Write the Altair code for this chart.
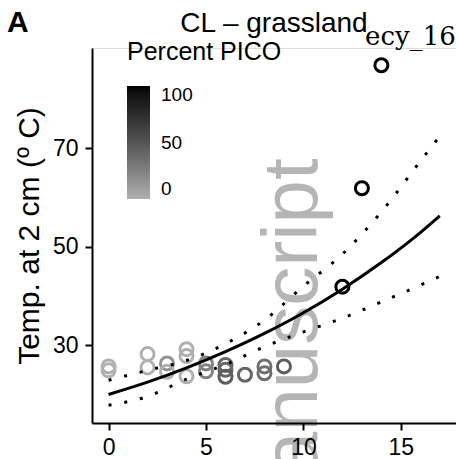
import altair as alt
import pandas as pd

# ---- data ----
pico_x = [0, 0, 2, 2, 3, 3, 4, 4, 4, 5, 5, 6, 6, 6, 7, 8, 8, 9, 12, 13, 14]
temp_y = [25.7, 24.9, 28.2, 25.5, 26.3, 24.6, 29.2, 27.8, 23.7, 26.3, 24.7,
          26.0, 25.0, 23.6, 24.0, 25.7, 24.3, 25.7, 41.9, 61.9, 86.9]
pico_pct = [0, 0, 0, 0, 15, 0, 0, 0, 0, 25, 25, 40, 40, 45, 40, 35, 35, 45, 100, 100, 100]
point_label = [""] * 20 + ["ecy_16"]

fit_x = [0, 2, 4, 6, 8, 10, 12, 14, 16, 17]
fit_mid = [20.0, 22.5, 25.4, 28.7, 32.4, 36.6, 41.4, 46.8, 52.9, 56.3]
fit_upper = [22.9, 24.9, 26.9, 30.3, 35.1, 42.0, 48.5, 57.1, 67.4, 72.5]
fit_lower = [17.8, 19.6, 23.1, 26.1, 29.7, 32.7, 35.5, 38.8, 42.2, 44.0]

x_ticks = [0, 5, 10, 15]
y_ticks = [30, 50, 70]

watermark_text = ["manuscript"]
watermark_x = [10.7]
watermark_y = [29.2]

title_text = ["CL – grassland"]
tag_text = ["A"]

FONT = "Liberation Sans"

points = pd.DataFrame({"x": pico_x, "y": temp_y, "pico": pico_pct, "label": point_label})
fits = pd.DataFrame({"x": fit_x, "mid": fit_mid, "upper": fit_upper, "lower": fit_lower})
wm = pd.DataFrame({"x": watermark_x, "y": watermark_y, "t": watermark_text})

xscale = alt.Scale(domain=[-0.85, 17.83], nice=False, zero=False)
yscale = alt.Scale(domain=[14.2, 90.4], nice=False, zero=False)

x_axis = alt.Axis(values=x_ticks, title=None, grid=False, labelFontSize=23,
                  labelFont=FONT, labelColor="black", labelPadding=6,
                  tickSize=7, tickWidth=2, tickColor="black",
                  domainColor="black", domainWidth=2, labelFlush=False, zindex=1)
y_axis = alt.Axis(values=y_ticks, title="Temp. at 2 cm (º C)", grid=False,
                  labelFontSize=23, labelFont=FONT, labelColor="black",
                  labelPadding=7, tickSize=7, tickWidth=2, tickColor="black",
                  domainColor="black", domainWidth=2, titleFontSize=30,
                  titleFont=FONT, titleFontWeight="normal", titleColor="black",
                  titlePadding=8, labelFlush=False, zindex=1)

base_x = alt.X("x:Q", scale=xscale, axis=x_axis)

watermark = alt.Chart(wm).mark_text(
    angle=270, align="center", baseline="alphabetic", fontSize=78,
    font=FONT, color="#b5b5b5"
).encode(x=alt.X("x:Q", scale=xscale), y=alt.Y("y:Q", scale=yscale), text="t:N")

pts = alt.Chart(points).mark_point(
    shape="circle", filled=False, size=170, strokeWidth=3, opacity=1
).encode(
    x=base_x,
    y=alt.Y("y:Q", scale=yscale, axis=y_axis),
    color=alt.Color("pico:Q", scale=alt.Scale(domain=[0, 100], range=["#b0b0b0", "#000000"],
                                              interpolate="lab"),
                    legend=alt.Legend(title="Percent PICO", orient="none",
                                      legendX=35, legendY=-8, padding=0,
                                      gradientLength=113, gradientThickness=23,
                                      titleFontSize=25, titleFont=FONT,
                                      titleFontWeight="normal", titleColor="black",
                                      titlePadding=21, labelFontSize=19,
                                      labelFont=FONT, labelColor="black",
                                      labelOffset=11, values=[0, 50, 100],
                                      gradientStrokeWidth=0, direction="vertical"))
)

lab = alt.Chart(points).transform_filter(alt.datum.label != "").mark_text(
    font="DejaVu Serif", fontSize=26, align="center", baseline="alphabetic",
    dx=29, dy=-20, color="black"
).encode(x=alt.X("x:Q", scale=xscale), y=alt.Y("y:Q", scale=yscale), text="label:N")

mid = alt.Chart(fits).mark_line(color="black", strokeWidth=3, interpolate="monotone").encode(
    x=alt.X("x:Q", scale=xscale), y=alt.Y("mid:Q", scale=yscale))
up = alt.Chart(fits).mark_line(color="black", strokeWidth=3, strokeDash=[3, 13],
                               strokeCap="butt", interpolate="monotone").encode(
    x=alt.X("x:Q", scale=xscale), y=alt.Y("upper:Q", scale=yscale))
lo = alt.Chart(fits).mark_line(color="black", strokeWidth=3, strokeDash=[3, 13],
                               strokeCap="butt", interpolate="monotone").encode(
    x=alt.X("x:Q", scale=xscale), y=alt.Y("lower:Q", scale=yscale))

title = alt.Chart(pd.DataFrame({"t": title_text})).mark_text(
    align="center", baseline="alphabetic", fontSize=28, font=FONT, color="black"
).encode(x=alt.value(182), y=alt.value(-16), text="t:N")

tag = alt.Chart(pd.DataFrame({"t": tag_text})).mark_text(
    align="left", baseline="alphabetic", fontSize=30, fontWeight="bold",
    font=FONT, color="black"
).encode(x=alt.value(-85), y=alt.value(-16), text="t:N")

chart = alt.layer(watermark, pts, mid, up, lo, lab, title, tag).properties(
    width=364, height=375,
    autosize=alt.AutoSizeParams(type="none"),
    padding={"left": 92, "top": 48, "right": 0, "bottom": 36},
).configure_view(stroke=None).configure(background="white")

chart.save("out.html", embed_options={"renderer": "svg", "actions": False})
